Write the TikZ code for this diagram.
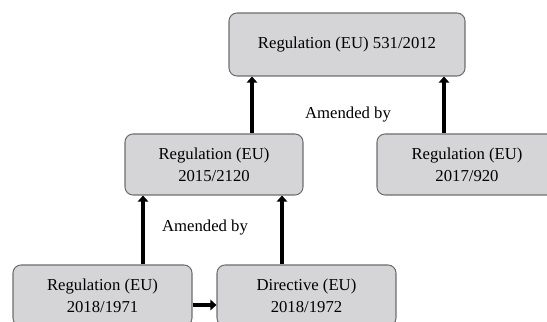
\documentclass[tikz,border=0pt]{standalone}
\usepackage{fontspec}
\setmainfont{Liberation Serif}
\usetikzlibrary{arrows.meta}
\definecolor{boxgray}{RGB}{213,213,215}
\definecolor{edgegray}{RGB}{110,110,110}
\tikzset{
  regbox/.style={draw=edgegray, fill=boxgray, rounded corners=0.16cm, line width=0.6pt,
    align=center, inner sep=0pt, font=\fontsize{9.5}{12.5}\selectfont},
  amend/.style={line width=2.2pt, -{Triangle[length=3.5pt,width=6pt]}},
}
\begin{document}
\begin{tikzpicture}
\clip (0,0) rectangle (10.94,6.44);
\useasboundingbox (0,0) rectangle (10.94,6.44);
\node[regbox, minimum width=4.72cm, minimum height=1.26cm] (reg531) at (6.94,5.55) {Regulation (EU) 531/2012};
\node[regbox, minimum width=3.56cm, minimum height=1.22cm] (reg2120) at (4.28,3.15) {Regulation (EU)\\2015/2120};
\node[regbox, minimum width=3.60cm, minimum height=1.22cm] (reg920) at (9.34,3.15) {Regulation (EU)\\2017/920};
\node[regbox, minimum width=3.58cm, minimum height=1.22cm] (reg1971) at (2.05,0.53) {Regulation (EU)\\2018/1971};
\node[regbox, minimum width=3.58cm, minimum height=1.22cm] (dir1972) at (6.13,0.53) {Directive (EU)\\2018/1972};
\node[font=\fontsize{9.5}{12.5}\selectfont] (amend1) at (6.96,4.14) {Amended by};
\node[font=\fontsize{9.5}{12.5}\selectfont] (amend2) at (4.10,1.88) {Amended by};
% arrows up to the older acts
\draw[amend] ([xshift=0.76cm]reg2120.north) -- ([xshift=0.76cm]reg2120.north |- reg531.south);
\draw[amend] ([xshift=-0.46cm]reg920.north) -- ([xshift=-0.46cm]reg920.north |- reg531.south);
\draw[amend] ([xshift=0.81cm]reg1971.north) -- ([xshift=0.81cm]reg1971.north |- reg2120.south);
\draw[amend] ([xshift=-0.49cm]dir1972.north) -- ([xshift=-0.49cm]dir1972.north |- reg2120.south);
\draw[amend] ([yshift=-0.19cm]reg1971.east) -- ([yshift=-0.19cm]reg1971.east -| dir1972.west);
\end{tikzpicture}
\end{document}
